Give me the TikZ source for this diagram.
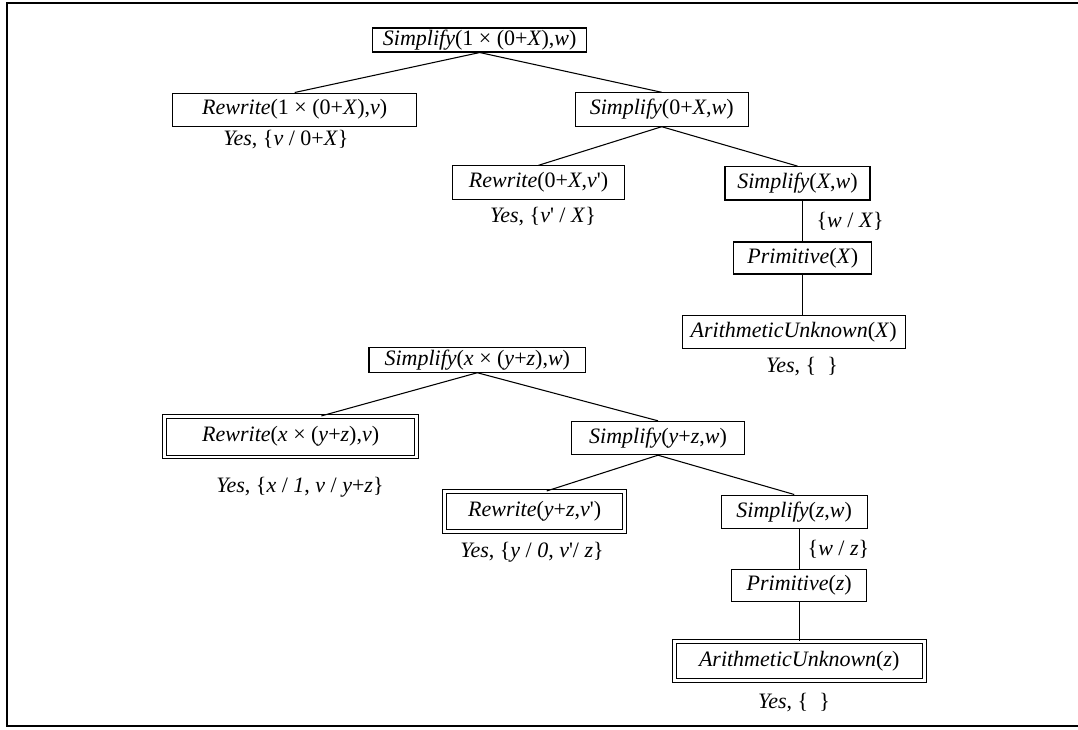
\documentclass[tikz,border=0pt]{standalone}
\usepackage{fontspec}
\setmainfont{Liberation Serif}
\usepackage{tikz}
\usetikzlibrary{positioning}
\tikzset{
  box/.style={draw,line width=0.8pt,rectangle,minimum height=25pt,inner sep=0pt,align=center},
  dbox/.style={box,double,double distance=2pt,minimum height=30pt},
  result/.style={inner sep=1pt},
  subst/.style={midway,right,xshift=9pt,inner sep=1pt},
  link/.style={line width=0.8pt},
  frame/.style={line width=1.9pt}
}
\begin{document}
\begin{tikzpicture}[x=0.75pt,y=-0.75pt,font=\fontsize{16.5}{19}\selectfont]
  \useasboundingbox (0,0) rectangle (1078,729);
  \draw[frame] (1080,3) -- (7,3) -- (7,726) -- (1080,726);
  \node[box,minimum width=160.5pt,minimum height=18pt] (s1) at (479.7,40) {\textit{Simplify}(1 × (0+\textit{X}),\textit{w})};
  \node[box,minimum width=183pt] (r1) at (294.7,109.7) {\textit{Rewrite}(1 × (0+\textit{X}),\textit{v})};
  \node[result] (y1) at (286,140) {\textit{Yes}, \{\textit{v} / 0+\textit{X}\}};
  \node[box,minimum width=130pt] (s2) at (661.7,109.5) {\textit{Simplify}(0+\textit{X},\textit{w})};
  \node[box,minimum width=128.7pt] (r2) at (538.5,182.5) {\textit{Rewrite}(0+\textit{X},\textit{v}\textquotesingle)};
  \node[result] (y2) at (543,217) {\textit{Yes}, \{\textit{v}\textquotesingle\ / \textit{X}\}};
  \node[box,minimum width=108.75pt] (s3) at (797.5,183.3) {\textit{Simplify}(\textit{X},\textit{w})};
  \node[box,minimum width=103.3pt,minimum height=24pt] (p1) at (802.8,258) {\textit{Primitive}(\textit{X})};
  \node[box,minimum width=167pt] (a1) at (793.7,332) {\textit{ArithmeticUnknown}(\textit{X})};
  \node[result] (y3) at (802,367) {\textit{Yes}, \{\ \ \}};
  \draw[link] (s1.south) -- (r1.north);
  \draw[link] (s1.south) -- (s2.north);
  \draw[link] (s2.south) -- (r2.north);
  \draw[link] (s2.south) -- (s3.north);
  \draw[link] (s3.south -| p1) -- node[subst] (w1) {\{\textit{w} / \textit{X}\}} (p1.north);
  \draw[link] (p1.south) -- (a1.north -| p1);
  \node[box,minimum width=162.5pt,minimum height=18.75pt] (t1) at (477.3,359.7) {\textit{Simplify}(\textit{x} × (\textit{y}+\textit{z}),\textit{w})};
  \node[dbox,minimum width=189pt,minimum height=30.4pt] (q1) at (290.7,436.7) {\textit{Rewrite}(\textit{x} × (\textit{y}+\textit{z}),\textit{v})};
  \node[result] (z1) at (300,487) {\textit{Yes}, \{\textit{x} / \textit{1}, \textit{v} / \textit{y}+\textit{z}\}};
  \node[box,minimum width=129.5pt] (t2) at (658,438) {\textit{Simplify}(\textit{y}+\textit{z},\textit{w})};
  \node[dbox,minimum width=135pt] (q2) at (534.7,511.5) {\textit{Rewrite}(\textit{y}+\textit{z},\textit{v}\textquotesingle)};
  \node[result] (z2) at (532,552) {\textit{Yes}, \{\textit{y} / \textit{0}, \textit{v}\textquotesingle/ \textit{z}\}};
  \node[box,minimum width=109.7pt] (t3) at (794.2,511.7) {\textit{Simplify}(\textit{z},\textit{w})};
  \node[box,minimum width=101.25pt,minimum height=24pt] (p2) at (799.2,585.5) {\textit{Primitive}(\textit{z})};
  \node[dbox,minimum width=187.5pt,minimum height=29.2pt] (a2) at (799.2,660.8) {\textit{ArithmeticUnknown}(\textit{z})};
  \node[result] (z3) at (794,703) {\textit{Yes}, \{\ \ \}};
  \draw[link] (t1.south) -- ([xshift=23pt]q1.north);
  \draw[link] (t1.south) -- (t2.north);
  \draw[link] (t2.south) -- ([xshift=9pt]q2.north);
  \draw[link] (t2.south) -- (t3.north);
  \draw[link] (t3.south -| p2) -- node[subst,xshift=-4pt] (w2) {\{\textit{w} / \textit{z}\}} (p2.north);
  \draw[link] (p2.south) -- (a2.north -| p2);
\end{tikzpicture}
\end{document}
